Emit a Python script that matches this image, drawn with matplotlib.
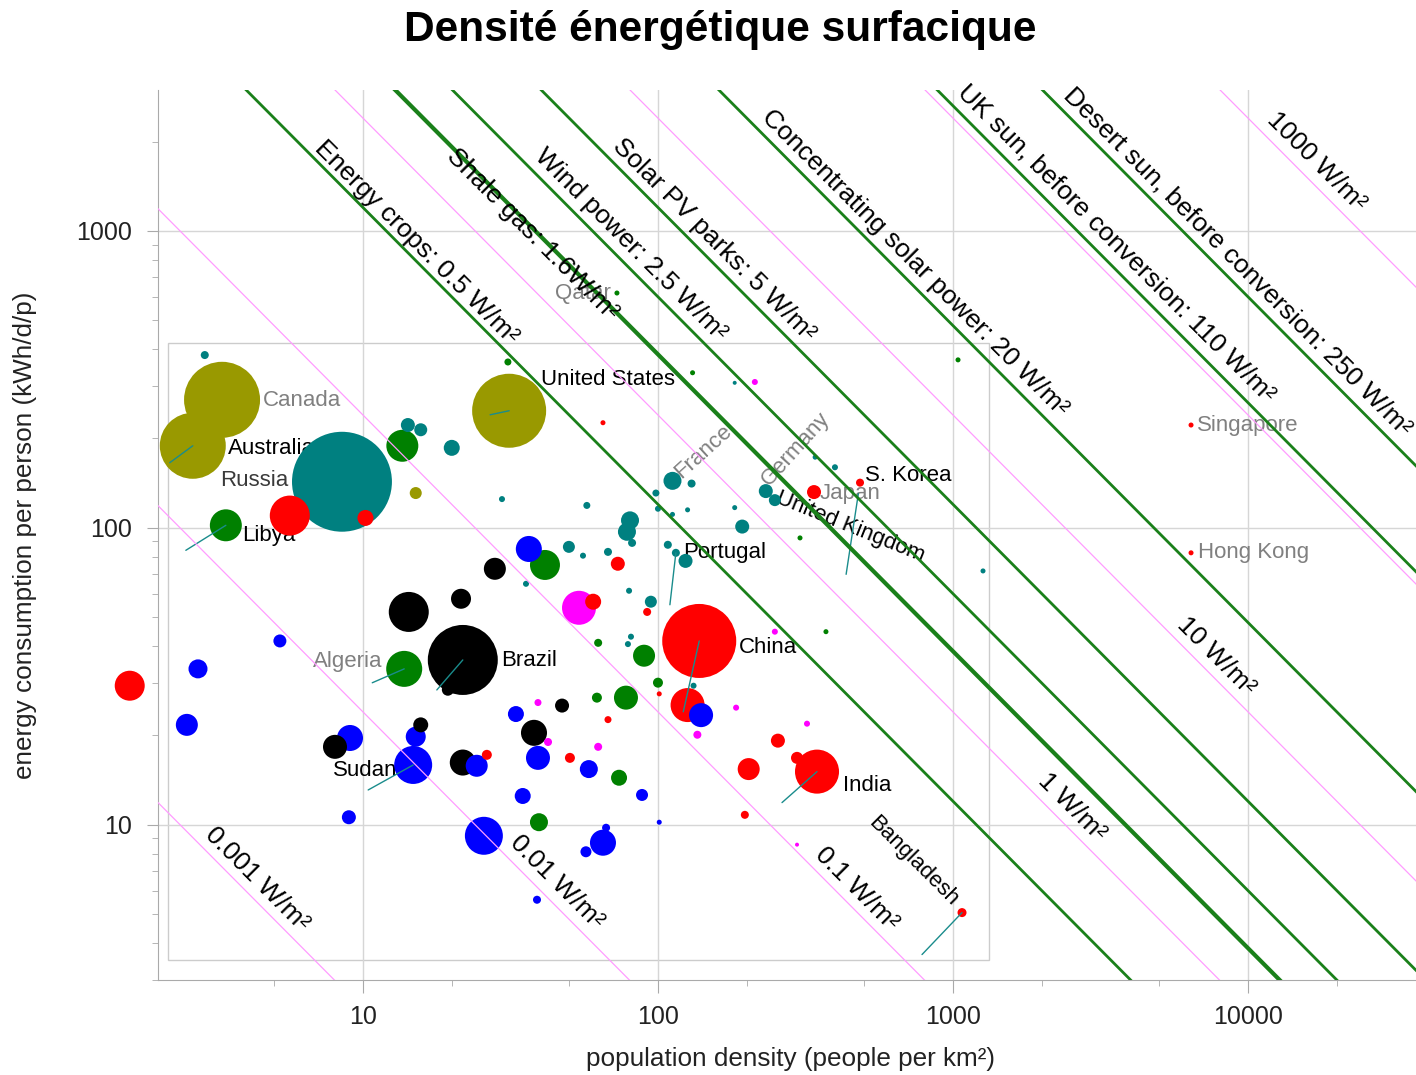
import numpy as np
import matplotlib.pyplot as plt
from matplotlib.patches import Rectangle
from matplotlib.ticker import LogLocator, FuncFormatter, NullFormatter

plt.rcParams['font.family'] = ['Liberation Sans', 'DejaVu Sans']

# one entry per country: people per km2, kWh/d per person, land area (1000 km2), region
density = [2.91, 3.33, 2.65, 8.49, 13.6, 14.2, 15.7, 20.0, 15.1, 5.65,
           10.2, 3.43, 14.3, 21.8, 5.23, 2.76, 13.8, 2.53, 8.04, 9.04,
           15.7, 15.1, 14.8, 19.4, 8.96, 1.62, 31.0, 31.3, 65.1, 131,
           182, 112, 130, 98.4, 29.6, 57.4, 100, 112, 126, 182,
           193, 80.4, 78.5, 81.7, 36.5, 41.4, 28.0, 49.9, 55.7, 67.7,
           73.1, 108, 115, 124, 21.5, 35.7, 54.0, 60.3, 79.8, 94.6,
           91.9, 62.7, 81.0, 79.1, 89.7, 138, 100, 101, 132, 62.1,
           77.9, 126, 140, 39.2, 47.3, 33.0, 184, 67.7, 38.0, 42.4,
           62.7, 136, 21.8, 24.3, 26.3, 39.2, 50.3, 58.3, 73.8, 34.8,
           88.3, 39.5, 25.7, 101, 66.7, 65.1, 57.0, 38.9, 1040, 213,
           341, 398, 232, 249, 338, 484, 303, 1264, 249, 371,
           320, 255, 203, 296, 346, 197, 296, 1073, 6410, 6410,
           72.6]
energy = [382, 270, 189, 143, 189, 222, 214, 186, 131, 110,
          108, 102, 52.1, 35.9, 41.6, 33.5, 33.5, 21.7, 18.3, 19.6,
          21.7, 19.8, 15.9, 28.5, 10.6, 29.4, 362, 248, 226, 333,
          308, 144, 141, 131, 125, 119, 116, 111, 115, 117,
          101, 106, 97, 89, 84.9, 75.0, 72.8, 86.3, 80.6, 83.0,
          75.7, 87.7, 82.4, 77.4, 57.7, 64.8, 53.8, 56.4, 61.4, 56.4,
          52.1, 41.0, 43.0, 40.6, 37.1, 41.6, 30.1, 27.6, 29.4, 26.8,
          26.8, 25.3, 23.4, 25.8, 25.2, 23.6, 24.8, 22.6, 20.4, 19.0,
          18.3, 20.1, 16.2, 15.8, 17.2, 16.8, 16.8, 15.4, 14.4, 12.5,
          12.6, 10.2, 9.18, 10.2, 9.77, 8.70, 8.11, 5.59, 368, 310,
          173, 160, 133, 124, 132, 142, 92.5, 71.6, 44.7, 44.7,
          21.9, 19.2, 15.4, 16.8, 15.1, 10.8, 8.57, 5.06, 222, 82.4,
          618]
area = [110, 9890, 7460, 17100, 1750, 336, 289, 438, 247, 2740,
        438, 1750, 2740, 8390, 289, 618, 2220, 829, 986, 1160,
        385, 685, 2470, 247, 336, 1540, 84, 9380, 43, 43,
        27, 555, 110, 84, 62, 84, 62, 43, 43, 43,
        336, 555, 555, 110, 1160, 1540, 829, 247, 62, 110,
        336, 110, 110, 336, 685, 62, 1980, 438, 62, 247,
        110, 110, 62, 62, 829, 9380, 171, 43, 62, 171,
        986, 1980, 986, 84, 336, 438, 62, 84, 1160, 110,
        110, 110, 1160, 829, 171, 986, 171, 555, 438, 438,
        247, 555, 2470, 43, 110, 1160, 207, 110, 43, 62,
        43, 62, 336, 247, 336, 110, 43, 43, 62, 43,
        62, 336, 829, 247, 3320, 110, 27, 139, 43, 43,
        43]
region = ['eu', 'na', 'na', 'eu', 'me', 'eu', 'eu', 'eu', 'na', 'as',
          'as', 'me', 'sa', 'sa', 'af', 'af', 'me', 'af', 'sa', 'af',
          'sa', 'af', 'af', 'sa', 'af', 'as', 'me', 'na', 'as', 'me',
          'eu', 'eu', 'eu', 'eu', 'eu', 'eu', 'eu', 'eu', 'eu', 'eu',
          'eu', 'eu', 'eu', 'eu', 'af', 'me', 'sa', 'eu', 'eu', 'eu',
          'as', 'eu', 'eu', 'eu', 'sa', 'eu', 'ca', 'as', 'eu', 'eu',
          'as', 'me', 'eu', 'eu', 'me', 'as', 'me', 'as', 'eu', 'me',
          'me', 'as', 'af', 'ca', 'sa', 'af', 'ca', 'as', 'sa', 'ca',
          'ca', 'ca', 'sa', 'af', 'as', 'af', 'as', 'af', 'me', 'af',
          'af', 'me', 'af', 'af', 'af', 'af', 'af', 'af', 'me', 'ca',
          'eu', 'eu', 'eu', 'eu', 'as', 'as', 'me', 'eu', 'ca', 'me',
          'ca', 'as', 'as', 'as', 'as', 'as', 'ca', 'as', 'as', 'as',
          'me']
country = {'Canada': 1, 'Australia': 2, 'Russia': 3, 'Libya': 11, 'Brazil': 13,
           'Algeria': 16, 'Sudan': 22, 'United States': 27, 'France': 31,
           'Portugal': 52, 'China': 65, 'Germany': 102, 'United Kingdom': 103,
           'Japan': 104, 'S. Korea': 105, 'India': 114, 'Bangladesh': 117,
           'Singapore': 118, 'Hong Kong': 119, 'Qatar': 120}

# lines of constant power per unit land area (W/m2)
source_names = ['Energy crops: 0.5 W/m²', 'Shale gas: 1.6W/m²', 'Wind power: 2.5 W/m²',
                'Solar PV parks: 5 W/m²', 'Concentrating solar power: 20 W/m²',
                'UK sun, before conversion: 110 W/m²',
                'Desert sun, before conversion: 250 W/m²']
source_power = [0.5, 1.6, 2.5, 5, 20, 110, 250]
scale_power = [0.001, 0.01, 0.1, 1, 10, 100, 1000]
scale_names = ['0.001 W/m²', '0.01 W/m²', '0.1 W/m²', '1 W/m²', '10 W/m²', '', '1000 W/m²']

colors = {'eu': '#008080', 'as': '#ff0000', 'af': '#0000ff', 'sa': '#000000',
          'me': '#008000', 'ca': '#ff00ff', 'na': '#999900'}
grey = '#808080'


def per_person(power, dens):
    # kWh/d per person giving `power` W/m2 at density `dens` people/km2
    return 24000.0 * power / dens


fig = plt.figure(figsize=(14.16, 10.75), dpi=100)
ax = fig.add_axes([158 / 1416, 1 - 980 / 1075, 1258 / 1416, 890 / 1075])
ax.set_xscale('log')
ax.set_yscale('log')
ax.set_xlim(2.02, 37100)
ax.set_ylim(3.0, 2984)

ax.grid(True, which='major', color='#d6d6d6', lw=1, zorder=0)
ax.set_axisbelow(True)
ax.add_patch(Rectangle((2.18, 3.51), 1325 - 2.18, 420 - 3.51, fill=False,
                       ec='#cccccc', lw=1, zorder=0.5))

for s in ['top', 'right']:
    ax.spines[s].set_visible(False)
for s in ['left', 'bottom']:
    ax.spines[s].set_color('#aaaaaa')

ax.xaxis.set_major_locator(LogLocator(base=10, numticks=10))
ax.yaxis.set_major_locator(LogLocator(base=10, numticks=10))
ax.xaxis.set_minor_locator(LogLocator(base=10, subs=[2, 5], numticks=20))
ax.yaxis.set_minor_locator(LogLocator(base=10, subs=np.arange(2, 10), numticks=20))
fmt = FuncFormatter(lambda v, _: f'{v:g}')
ax.xaxis.set_major_formatter(fmt)
ax.yaxis.set_major_formatter(fmt)
ax.xaxis.set_minor_formatter(NullFormatter())
ax.yaxis.set_minor_formatter(NullFormatter())
ax.tick_params(which='both', color='#aaaaaa', labelcolor='#222222', labelsize=18)
ax.tick_params(axis='y', which='major', length=8, pad=11)
ax.tick_params(axis='x', which='major', length=9, pad=9)
ax.tick_params(which='minor', length=4.5)

ax.set_xlabel('population density (people per km²)', fontsize=18.8, color='#222222')
ax.xaxis.label.set_va('center')
ax.xaxis.set_label_coords(0.503, -0.0885)
ax.set_ylabel('energy consumption per person (kWh/d/p)', fontsize=18.8, color='#222222')
ax.yaxis.label.set_va('center')
ax.yaxis.set_label_coords(-0.1057, 0.5)

fig.text(0.509, 0.972, 'Densité énergétique surfacique', fontsize=30.6,
         fontweight='bold', ha='center', va='center')

# bubbles, biggest first so small countries stay visible
D = np.array(density)
E = np.array(energy)
A = np.array(area)
order = np.argsort(-A)
ax.scatter(D[order], E[order], s=A[order] * 0.3027,
           c=[colors[region[i]] for i in order], edgecolors='none',
           zorder=2, clip_on=False)

# country labels: offset (points), alignment, rotation, colour
labels = {
    'Canada': ((29.5, -0.7), 'left', 0, grey),
    'Australia': ((25.2, -2.2), 'left', 0, 'black'),
    'Russia': ((-38.9, 0.7), 'right', 0, '#3a3a3a'),
    'Libya': ((11.5, -7.2), 'left', 0, 'black'),
    'United States': ((23, 22.3), 'left', 0, 'black'),
    'Qatar': ((-4.3, 0), 'right', 0, grey),
    'France': ((22.3, 20.9), 'center', 42, grey),
    'Germany': ((21.6, 30.2), 'center', 48, grey),
    'Japan': ((4.3, -0.7), 'left', 0, grey),
    'S. Korea': ((3.6, 5), 'left', 0, 'black'),
    'United Kingdom': ((54, -19.4), 'center', -22, 'black'),
    'Portugal': ((5, 0), 'left', 0, 'black'),
    'Algeria': ((-15.8, 5), 'right', 0, grey),
    'Brazil': ((27.4, -0.7), 'left', 0, 'black'),
    'China': ((28.8, -5), 'left', 0, 'black'),
    'Sudan': ((-11.5, -4.3), 'right', 0, 'black'),
    'India': ((18.7, -10), 'left', 0, 'black'),
    'Bangladesh': ((-35.3, 36.7), 'center', -45, 'black'),
    'Singapore': ((4.3, 0), 'left', 0, grey),
    'Hong Kong': ((5, 0), 'left', 0, grey),
}
for name, (off, ha, rot, col) in labels.items():
    i = country[name]
    ax.annotate(name, (D[i], E[i]), xytext=off, textcoords='offset points',
                ha=ha, va='center', rotation=rot, rotation_mode='anchor',
                fontsize=16, color=col, zorder=1)

# leader lines from some labels to their bubble
leaders = {'Australia': (-16.6, -12.2), 'Libya': (-28.8, -18), 'United States': (-13.7, -2.9),
           'Algeria': (-23, -10), 'Brazil': (-18.7, -21.6), 'Sudan': (-32.4, -18),
           'China': (-11.5, -51), 'Portugal': (-4.3, -37.4), 'S. Korea': (-10, -66),
           'India': (-25.2, -22.3), 'Bangladesh': (-28.8, -30.2)}
for name, off in leaders.items():
    i = country[name]
    ax.annotate('', (D[i], E[i]), xytext=off, textcoords='offset points',
                arrowprops=dict(arrowstyle='-', color='#1a8c8c', lw=1,
                                shrinkA=0, shrinkB=8 if name == 'S. Korea' else 0),
                zorder=3)

dd = np.logspace(-3, 6, 400)
for p in scale_power:
    ax.plot(dd, per_person(p, dd), color='#ff9cff', lw=0.9, zorder=4)
for p in source_power:
    ax.plot(dd, per_person(p, dd), color='#1a801a', lw=3.0 if p == 1.6 else 2.0, zorder=4)

# line captions: position along the line and perpendicular shift (points)
source_at = [(14.1, 9.5), (38.4, -3.5), (73.4, 12.5), (141, 12.5), (677, 12.5), (3221, 13.5), (8356, 12.5)]
scale_at = [(4.01, 11.5), (41.2, 12.5), (432, 12), (2306, 12.5), (7130, 12), None, (15420, 13)]
for name, p, at in zip(source_names + scale_names, source_power + scale_power,
                       source_at + scale_at):
    if at is None:
        continue
    x0, d = at
    ax.annotate(name, (x0, per_person(p, x0)), xytext=(d * 0.707, d * 0.707),
                textcoords='offset points', ha='center', va='center',
                rotation=-45, rotation_mode='anchor', fontsize=19, zorder=5)

fig.savefig('out.png', dpi=100)
